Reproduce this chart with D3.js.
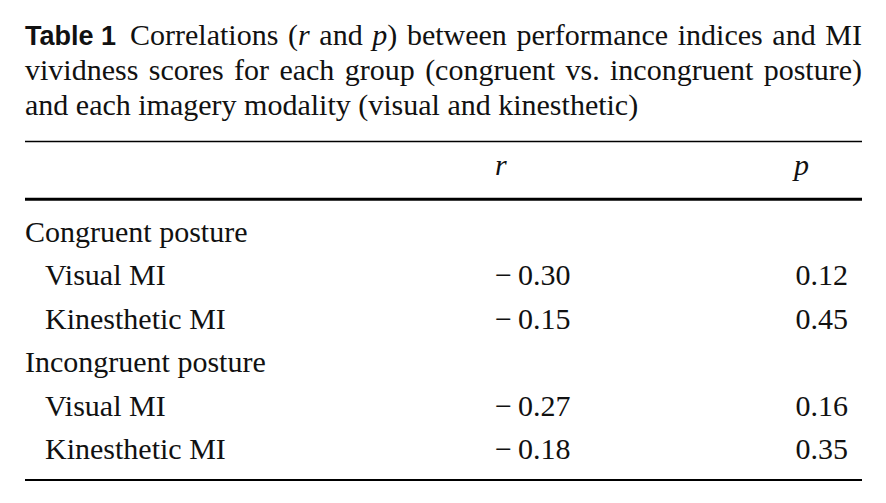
<!DOCTYPE html>
<html><head><meta charset="utf-8">
<script src="https://cdn.jsdelivr.net/npm/d3@7"></script>
<style>html,body{margin:0;padding:0;background:#fff;}svg{display:block;}</style>
</head><body>
<svg id="c" width="886" height="503"></svg>
<script>
const titleLabel = "Table 1";
const titleLines = [
  "Correlations (r and p) between performance indices and MI",
  "vividness scores for each group (congruent vs. incongruent posture)",
  "and each imagery modality (visual and kinesthetic)"
];
const columns = ["r", "p"];
const groups = ["Congruent posture", "Incongruent posture"];
const modalities = ["Visual MI", "Kinesthetic MI"];
const rValues = [[-0.30, -0.15], [-0.27, -0.18]];
const pValues = [[0.12, 0.45], [0.16, 0.35]];

const svg = d3.select("#c");
const serif = "'Liberation Serif','Times New Roman',serif";
const sans = "'Liberation Sans',Arial,sans-serif";
const left = 25, right = 862;
const fs = 30;

// Title, justified lines
const titleY = d3.scalePoint().domain(d3.range(titleLines.length)).range([45, 115]);
titleLines.forEach((line, i) => {
  const g = svg.append("g");
  let x0 = left;
  if (i === 0) {
    const t = g.append("text").attr("x", left).attr("y", titleY(i))
      .attr("font-family", sans).attr("font-weight", "bold").attr("font-size", 27)
      .attr("fill", "#111").text(titleLabel);
    x0 = left + t.node().getComputedTextLength() + 14;
  }
  const words = line.split(" ");
  const nodes = words.map(w => {
    const t = g.append("text").attr("y", titleY(i)).attr("font-family", serif)
      .attr("font-size", fs).attr("fill", "#111");
    const parts = w.match(/^(\(?)(r|p)(\)?)$/);
    if (parts) {
      t.append("tspan").text(parts[1]);
      t.append("tspan").attr("font-style", "italic").text(parts[2]);
      t.append("tspan").text(parts[3]);
    } else t.text(w);
    return t;
  });
  const widths = nodes.map(n => n.node().getComputedTextLength());
  const total = d3.sum(widths);
  const justify = i < titleLines.length - 1;
  const gap = justify ? (right - x0 - total) / (words.length - 1) : 7.5;
  let x = x0;
  nodes.forEach((n, k) => { n.attr("x", x); x += widths[k] + gap; });
});

// Rules
const rule = (y, w) => svg.append("line").attr("x1", left).attr("x2", right)
  .attr("y1", y).attr("y2", y).attr("stroke", "#000").attr("stroke-width", w);
rule(141.5, 1.6);
rule(199.3, 3);
rule(480, 2);

// Column positions
const colX = d3.scaleOrdinal().domain(columns).range([495, 848]);
const headerX = d3.scaleOrdinal().domain(columns).range([495, 794]);
svg.selectAll("text.hdr").data(columns).join("text").attr("class", "hdr")
  .attr("x", d => headerX(d)).attr("y", 175)
  .attr("font-family", serif).attr("font-style", "italic").attr("font-size", fs)
  .attr("fill", "#111").text(d => d);

// Rows
const rows = [];
groups.forEach((g, gi) => {
  rows.push({label: g, indent: 0, r: null, p: null});
  modalities.forEach((m, mi) => rows.push({label: m, indent: 20, r: rValues[gi][mi], p: pValues[gi][mi]}));
});
const y = d3.scalePoint().domain(d3.range(rows.length)).range([242, 459]);
const fmt = v => (v < 0 ? "\u2212\u2009" : "") + d3.format(".2f")(Math.abs(v));

const rowG = svg.selectAll("g.row").data(rows).join("g").attr("class", "row")
  .attr("transform", (d, i) => `translate(0,${y(i)})`)
  .attr("font-family", serif).attr("font-size", fs).attr("fill", "#111");
rowG.append("text").attr("x", d => left + d.indent).text(d => d.label);
rowG.filter(d => d.r !== null).append("text").attr("x", colX("r")).text(d => fmt(d.r));
rowG.filter(d => d.p !== null).append("text").attr("x", colX("p")).attr("text-anchor", "end").text(d => fmt(d.p));
</script>
</body></html>
